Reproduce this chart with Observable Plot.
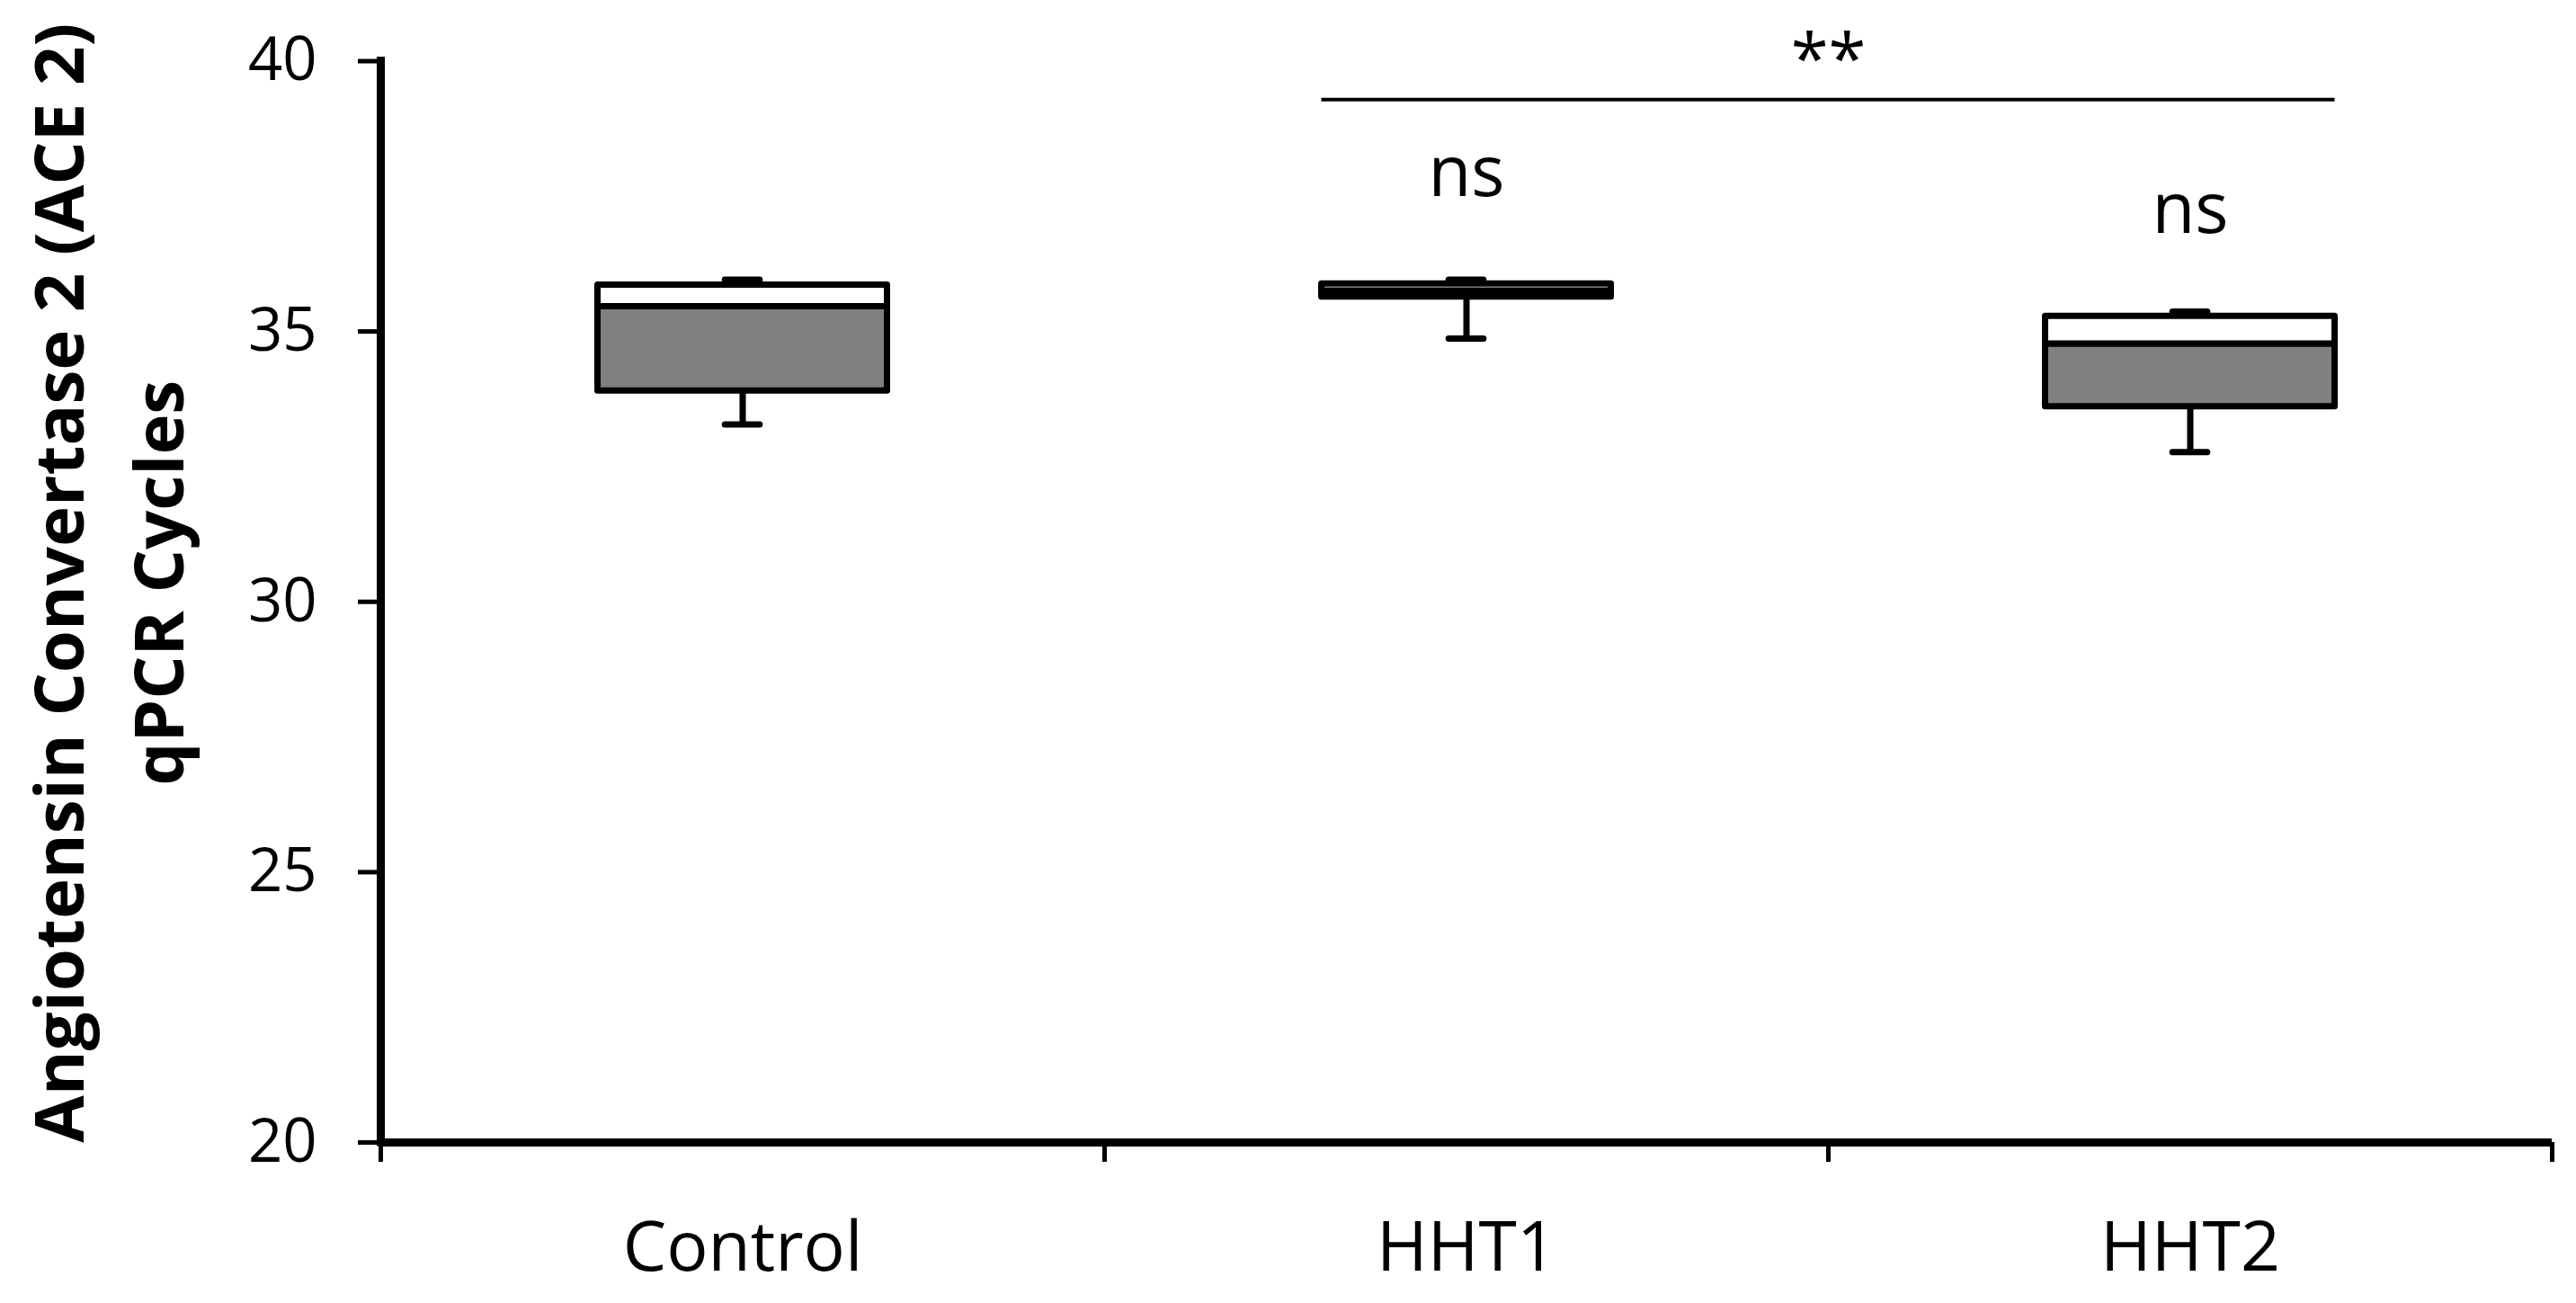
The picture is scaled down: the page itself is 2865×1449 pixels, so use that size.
<!DOCTYPE html>
<html>
<head>
<meta charset="utf-8">
<script src="https://cdn.jsdelivr.net/npm/d3@7"></script>
<script src="https://cdn.jsdelivr.net/npm/@observablehq/plot@0.6"></script>
<style>
  html, body { margin: 0; padding: 0; background: #fff; }
  #chart { width: 2865px; height: 1449px; }
</style>
</head>
<body>
<div id="chart"></div>
<script>
// ---- data ----
const groups  = ["Control", "HHT1", "HHT2"];
const mins    = [33.28, 34.87, 32.77];
const q1s     = [33.90, 35.64, 33.61];
const medians = [35.46, 35.75, 34.77];
const q3s     = [35.86, 35.88, 35.28];
const maxs    = [35.96, 35.96, 35.37];

const yTicks = [20, 25, 30, 35, 40];
const yTitle = ["Angiotensin Convertase 2 (ACE 2)", "qPCR Cycles"];

const nsGroups = ["HHT1", "HHT2"];
const nsY      = [37.50, 36.83];
const nsText   = ["ns", "ns"];

const sigFrom  = ["HHT1"];
const sigTo    = ["HHT2"];
const sigLineY = [39.29];
const sigTextY = [39.59];
const sigText  = ["**"];

// ---- tables built from the arrays ----
const boxHalf = 0.2;   // half box width, in category units
const capHalf = 0.024; // half whisker cap width
const idx = g => groups.indexOf(g);
const table = groups.map((g, i) => ({
  group: g, i, min: mins[i], q1: q1s[i], median: medians[i], q3: q3s[i], max: maxs[i]
}));
const nsTable = nsGroups.map((g, k) => ({group: g, y: nsY[k], text: nsText[k]}));
const sigTable = sigFrom.map((g, k) => ({
  x1: idx(g) + 0.5 - boxHalf,
  x2: idx(sigTo[k]) + 0.5 + boxHalf,
  xm: (idx(g) + idx(sigTo[k]) + 1) / 2,
  y: sigLineY[k], ty: sigTextY[k], text: sigText[k]
}));

const cx = d => d.i + 0.5;

const chart = Plot.plot({
  width: 2865,
  height: 1449,
  marginLeft: 423,
  marginRight: 27,
  marginTop: 67.5,
  marginBottom: 179,
  style: {fontFamily: "'Open Sans', sans-serif", color: "#000", background: "#fff"},
  x: {domain: [0, groups.length], type: "linear"},
  y: {domain: [20, 40]},
  marks: [
    // y-axis ticks and labels
    Plot.axisY({ticks: yTicks, tickSize: 25, tickPadding: 46, fontSize: 67, strokeWidth: 5, label: null, tickFormat: d => String(d)}),
    // x-axis ticks at category boundaries
    Plot.axisX({ticks: d3.range(groups.length + 1), tickSize: 22, strokeWidth: 5, tickFormat: () => "", label: null}),
    // category labels
    Plot.axisX({ticks: groups.map((g, i) => i + 0.5), tickSize: 0, tickPadding: 88, fontSize: 77, label: null,
      tickFormat: d => groups[Math.floor(d)]}),
    // axis lines
    Plot.ruleX([0], {y1: 20, y2: 40, strokeWidth: 9, strokeLinecap: "square"}),
    Plot.ruleY([20], {x1: 0, x2: groups.length, strokeWidth: 9}),
    // whiskers
    Plot.ruleX(table, {x: cx, y1: "min", y2: "max", strokeWidth: 7}),
    Plot.ruleY(table, {y: "min", x1: d => cx(d) - capHalf, x2: d => cx(d) + capHalf, strokeWidth: 7, strokeLinecap: "round"}),
    Plot.ruleY(table, {y: "max", x1: d => cx(d) - capHalf, x2: d => cx(d) + capHalf, strokeWidth: 7, strokeLinecap: "round"}),
    // boxes: lower (q1 -> median) grey, upper (median -> q3) white
    Plot.rect(table, {x1: d => cx(d) - boxHalf, x2: d => cx(d) + boxHalf, y1: "q1", y2: "median",
      fill: "#808080", stroke: "#000", strokeWidth: 7, strokeLinejoin: "round"}),
    Plot.rect(table, {x1: d => cx(d) - boxHalf, x2: d => cx(d) + boxHalf, y1: "median", y2: "q3",
      fill: "#fff", stroke: "#000", strokeWidth: 7, strokeLinejoin: "round"}),
    // significance annotations
    Plot.ruleY(sigTable, {y: "y", x1: "x1", x2: "x2", strokeWidth: 4}),
    Plot.text(sigTable, {x: "xm", y: "ty", text: "text", fontSize: 76, lineAnchor: "bottom", fill: "#000"}),
    Plot.text(nsTable, {x: d => idx(d.group) + 0.5, y: "y", text: "text", fontSize: 78, lineAnchor: "bottom", fill: "#000"}),
    // y-axis title (two lines, rotated)
    Plot.text([yTitle.join("\n")], {text: d => d, frameAnchor: "left", textAnchor: "middle", rotate: -90, dx: -220, dy: -21,
      lineAnchor: "bottom", lineHeight: 1.45, fontSize: 76, fontWeight: "bold", fill: "#000"})
  ]
});
document.getElementById("chart").appendChild(chart);
</script>
</body>
</html>
